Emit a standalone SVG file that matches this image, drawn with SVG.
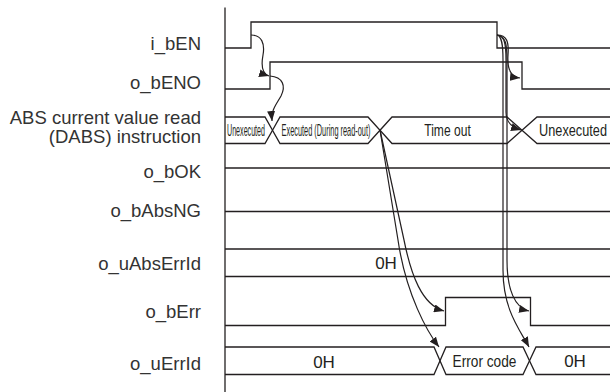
<svg xmlns="http://www.w3.org/2000/svg" width="610" height="392" viewBox="0 0 610 392">
<defs>
<marker id="ah" viewBox="0 0 10 8" refX="10" refY="4" markerWidth="10" markerHeight="8" markerUnits="userSpaceOnUse" orient="auto">
<path d="M0,0 L10,4 L0,8 Z" fill="#231f20"/>
</marker>
<style>
.w{fill:none;stroke:#231f20;stroke-width:1.3;stroke-linejoin:miter}
.lbl{font-family:"Liberation Sans",Arial,sans-serif;font-size:18.5px;fill:#333;text-anchor:end}
.bt{font-family:"Liberation Sans",Arial,sans-serif;font-size:16px;fill:#231f20;text-anchor:middle}
.bv{font-family:"Liberation Sans",Arial,sans-serif;font-size:17px;fill:#231f20;text-anchor:middle}
.ar{fill:none;stroke:#231f20;stroke-width:1.2;marker-end:url(#ah)}
</style>
</defs>
<rect width="610" height="392" fill="#fff"/>
<g id="axis"><line class="w" x1="225" y1="7.5" x2="225" y2="392"/></g>

<g id="i_bEN">
<text class="lbl" x="201" y="50">i_bEN</text>
<path class="w" d="M225,48 H251 V22 H497 V48 H610"/>
</g>
<g id="o_bENO">
<text class="lbl" x="201" y="89">o_bENO</text>
<path class="w" d="M225,89 H270 V62 H522 V89 H610"/>
</g>
<g id="dabs">
<text class="lbl" x="201" y="124">ABS current value read</text>
<text class="lbl" x="201" y="143">(DABS) instruction</text>
<path class="w" d="M225,117 H265 L272.5,130.25 L265,143.5 H225"/>
<path class="w" d="M272.5,130.25 L280,117 H368 L380,130.25 L368,143.5 H280 Z"/>
<path class="w" d="M380,130.25 L392,117 H507 L522,130.25 L507,143.5 H392 Z"/>
<path class="w" d="M610,117 H537 L522,130.25 L537,143.5 H610"/>
<text class="bt" transform="translate(246,136) scale(0.445,1)">Unexecuted</text>
<text class="bt" transform="translate(326,136) scale(0.461,1)">Executed (During read-out)</text>
<text class="bt" transform="translate(447.5,136) scale(0.755,1)">Time out</text>
<text class="bt" transform="translate(573,136) scale(0.796,1)">Unexecuted</text>
</g>
<g id="o_bOK">
<text class="lbl" x="201" y="178">o_bOK</text>
<path class="w" d="M225,168 H610"/>
</g>
<g id="o_bAbsNG">
<text class="lbl" x="201" y="217">o_bAbsNG</text>
<path class="w" d="M225,211.5 H610"/>
</g>
<g id="o_uAbsErrId">
<text class="lbl" x="201" y="270">o_uAbsErrId</text>
<path class="w" d="M225,249 H610 M225,276.5 H610"/>
<text class="bv" x="386" y="268.5">0H</text>
</g>
<g id="o_bErr">
<text class="lbl" x="201" y="318">o_bErr</text>
<path class="w" d="M225,325.5 H445.5 V297.5 H530.5 V325.5 H610"/>
</g>
<g id="o_uErrId">
<text class="lbl" x="201" y="370">o_uErrId</text>
<path class="w" d="M225,347 H434 L440,360.75 L434,374.5 H225"/>
<path class="w" d="M440,360.75 L446,347 H523 L529.5,360.75 L523,374.5 H446 Z"/>
<path class="w" d="M610,347 H536 L529.5,360.75 L536,374.5 H610"/>
<text class="bv" x="324" y="367.5">0H</text>
<text class="bv" transform="translate(484.5,367) scale(0.806,1)">Error code</text>
<text class="bv" x="575" y="367">0H</text>
</g>

<g id="connectors">
<path class="ar" d="M251,35 C262,35 265,44 263,55 C261,66 262,74 269,76"/>
<path class="ar" d="M270,76 C283,77 286,86 281,96 C276,105 271,110 272,121"/>
<path class="ar" d="M497,35 C507,35 509,42 508,55 C507,70 511,77 520,78"/>
<path class="ar" d="M497,35 C505,36 506,45 506,60 L506,112 C506,122 511,127 521,130"/>
<path class="ar" d="M497,35 C506,36 507,45 507,60 L507,260 C507,290 515,308 529,311"/>
<path class="ar" d="M497,35 C502,36 503,45 503,60 L503,270 C503,310 520,330 529,347"/>
<path class="ar" d="M380,130 L404,240 C411,275 422,305 444,311"/>
<path class="ar" d="M380,130 L398,240 C406,295 428,333 439,347"/>
</g>
</svg>
